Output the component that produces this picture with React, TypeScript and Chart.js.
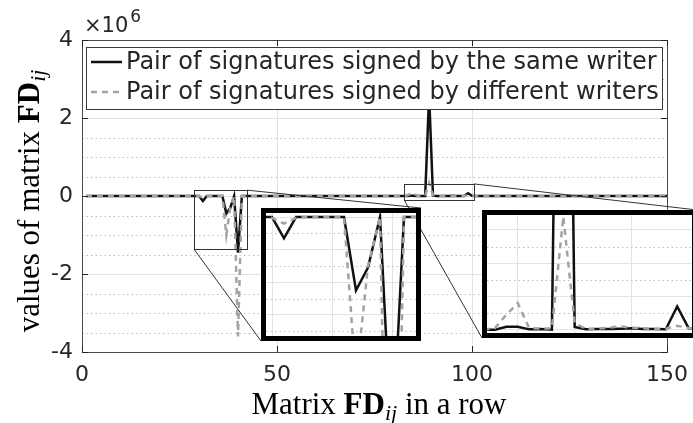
import React, { useEffect, useRef } from "react";
import { Chart, registerables } from "chart.js";
Chart.register(...registerables);

// ---------- data (values in units of 1e6) ----------
const INDEX = Array.from({ length: 150 }, (_, i) => i + 1);

const SAME_WRITER = [
  0, 0, 0, 0, 0, 0, 0, 0, 0, 0,
  0, 0, 0, 0, 0, 0, 0, 0, 0, 0,
  0, 0, 0, 0, 0, 0, 0, 0, 0, 0,
  -0.13, 0, 0, 0, 0, 0, -0.45, -0.31, 0, -1.45,
  0, 0, 0, 0, 0, 0, 0, 0, 0, 0,
  0, 0, 0, 0, 0, 0, 0, 0, 0, 0,
  0, 0, 0, 0, 0, 0, 0, 0, 0, 0,
  0, 0, 0, 0, 0, 0, 0, 0, 0, 0,
  0, 0, 0, 0.009, 0.009, 0.001, 0.002, 0, 2.6, 0.008,
  0.001, 0.002, 0.002, 0.003, 0.004, 0.002, 0.002, 0.001, 0.07, 0.005,
  0, 0, 0, 0, 0, 0, 0, 0, 0, 0,
  0, 0, 0, 0, 0, 0, 0, 0, 0, 0,
  0, 0, 0, 0, 0, 0, 0, 0, 0, 0,
  0, 0, 0, 0, 0, 0, 0, 0, 0, 0,
  0, 0, 0, 0, 0, 0, 0, 0, 0, 0,
];

const DIFF_WRITERS = [
  0, 0, 0, 0, 0, 0, 0, 0, 0, 0,
  0, 0, 0, 0, 0, 0, 0, 0, 0, 0,
  0, 0, 0, 0, 0, 0, 0, 0, 0, -0.005,
  -0.04, -0.005, 0, 0, 0, 0, -1.0, -0.3, 0, -3.6,
  0, 0, 0, 0, 0, 0, 0, 0, 0, 0,
  0, 0, 0, 0, 0, 0, 0, 0, 0, 0,
  0, 0, 0, 0, 0, 0, 0, 0, 0, 0,
  0, 0, 0, 0, 0, 0, 0, 0, 0, 0,
  0, 0, 0.005, 0.045, 0.08, 0.005, 0.003, 0.004, 0.34, 0.02,
  0.002, 0.003, 0.006, 0.01, 0.006, 0.004, 0.002, 0.003, 0.012, 0.005,
  0, 0, 0, 0, 0, 0, 0, 0, 0, 0,
  0, 0, 0, 0, 0, 0, 0, 0, 0, 0,
  0, 0, 0, 0, 0, 0, 0, 0, 0, 0,
  0, 0, 0, 0, 0, 0, 0, 0, 0, 0,
  0, 0, 0, 0, 0, 0, 0, 0, 0, 0,
];

const LEGEND_LABELS = [
  "Pair of signatures signed by the same writer",
  "Pair of signatures signed by different writers",
];

const X_TICKS = [0, 50, 100, 150];
const Y_TICKS = [-4, -2, 0, 2, 4];
const Y_MINOR = [-3.5, -3, -2.5, -1.5, -1, -0.5, 0.5, 1, 1.5, 2.5, 3, 3.5];

// inset 1 (zoom of the dips)
const INSET1_X = [29.5, 42];
const INSET1_Y = [-0.73, 0.025];
const INSET1_XTICKS = [30, 35, 40];
const INSET1_YTICKS = [-0.6, -0.4, -0.2, 0];
const INSET1_YMINOR = [-0.7, -0.5, -0.3, -0.1];
const INSET1_SRC = { x0: 28.7, x1: 42.3, y0: -1.36, y1: 0.15 };

// inset 2 (zoom of the spike)
const INSET2_X = [82.3, 100.3];
const INSET2_Y = [-0.01, 0.345];
const INSET2_XTICKS = [85, 90, 95];
const INSET2_YTICKS = [0, 0.1, 0.2, 0.3];
const INSET2_YMINOR = [0.05, 0.15, 0.25];
const INSET2_SRC = { x0: 82.6, x1: 100.5, y0: -0.1, y1: 0.31 };

// ---------- layout / style ----------
const W = 693;
const H = 423;
const INSET1_BOX = { left: 261, top: 208, width: 160, height: 133 };
const INSET2_BOX = { left: 482, top: 210, width: 215, height: 128 };
const TEXT = "#262626";
const GRID = "#e2e2e2";
const MINOR = "#bdbdbd";
const SANS = '"DejaVu Sans"';
const SERIF = '"Liberation Serif"';

function points(vals: number[]) {
  return INDEX.map((x, i) => ({ x, y: vals[i] }));
}

function datasets(width: number) {
  return [
    {
      label: LEGEND_LABELS[1],
      data: points(DIFF_WRITERS),
      borderColor: "#a3a3a3",
      borderWidth: width,
      borderDash: [6, 5],
      pointRadius: 0,
      tension: 0,
      order: 0,
    },
    {
      label: LEGEND_LABELS[0],
      data: points(SAME_WRITER),
      borderColor: "#111111",
      borderWidth: width,
      pointRadius: 0,
      tension: 0,
      order: 1,
    },
  ];
}

type Part = { t: string; font: string; dy?: number };
function drawRich(ctx: CanvasRenderingContext2D, parts: Part[], x: number, y: number) {
  let total = 0;
  for (const p of parts) {
    ctx.font = p.font;
    total += ctx.measureText(p.t).width;
  }
  let cx = x - total / 2;
  for (const p of parts) {
    ctx.font = p.font;
    ctx.fillText(p.t, cx, y + (p.dy || 0));
    cx += ctx.measureText(p.t).width;
  }
}

function seg(ctx: CanvasRenderingContext2D, x0: number, y0: number, x1: number, y1: number) {
  ctx.beginPath();
  ctx.moveTo(x0, y0);
  ctx.lineTo(x1, y1);
  ctx.stroke();
}

const mainDecor = {
  id: "mainDecor",
  beforeDatasetsDraw(chart: any) {
    const { ctx, chartArea: a, scales } = chart;
    ctx.save();
    ctx.strokeStyle = MINOR;
    ctx.lineWidth = 1;
    ctx.setLineDash([1.5, 3]);
    for (const v of Y_MINOR) {
      const py = Math.round(scales.y.getPixelForValue(v)) + 0.5;
      seg(ctx, a.left, py, a.right, py);
    }
    ctx.restore();
  },
  afterDatasetsDraw(chart: any) {
    const { ctx, chartArea: a, scales } = chart;
    const sx = scales.x, sy = scales.y;
    ctx.save();
    // box
    ctx.strokeStyle = "#4a4a4a";
    ctx.lineWidth = 1;
    ctx.strokeRect(Math.round(a.left) + 0.5, Math.round(a.top) + 0.5, Math.round(a.right - a.left), Math.round(a.bottom - a.top));
    // inward ticks
    ctx.strokeStyle = TEXT;
    for (const v of X_TICKS) {
      const px = Math.round(sx.getPixelForValue(v)) + 0.5;
      seg(ctx, px, a.bottom, px, a.bottom - 6);
      seg(ctx, px, a.top, px, a.top + 6);
    }
    for (const v of Y_TICKS) {
      const py = Math.round(sy.getPixelForValue(v)) + 0.5;
      seg(ctx, a.left, py, a.left + 6, py);
      seg(ctx, a.right, py, a.right - 6, py);
    }
    // source rectangles + connectors
    ctx.strokeStyle = "#333";
    ctx.lineWidth = 1;
    const insets = [
      { src: INSET1_SRC, box: INSET1_BOX },
      { src: INSET2_SRC, box: INSET2_BOX },
    ];
    for (const { src, box } of insets) {
      const x0 = sx.getPixelForValue(src.x0), x1 = sx.getPixelForValue(src.x1);
      const yTop = sy.getPixelForValue(src.y1), yBot = sy.getPixelForValue(src.y0);
      ctx.strokeRect(Math.round(x0) + 0.5, Math.round(yTop) + 0.5, Math.round(x1 - x0), Math.round(yBot - yTop));
      seg(ctx, x0, yBot, box.left, box.top + box.height);
      seg(ctx, x1, yTop, box.left + box.width, box.top);
    }
    // legend
    const lg = { x: 86, y: 47, w: 576, h: 62 };
    ctx.fillStyle = "#fff";
    ctx.fillRect(lg.x, lg.y, lg.w, lg.h);
    ctx.strokeStyle = "#3a3a3a";
    ctx.strokeRect(lg.x + 0.5, lg.y + 0.5, lg.w, lg.h);
    const rows = [
      { y: 62, ds: chart.data.datasets[1] },
      { y: 92, ds: chart.data.datasets[0] },
    ];
    ctx.font = `24px ${SANS}`;
    ctx.textBaseline = "middle";
    ctx.textAlign = "left";
    for (const r of rows) {
      ctx.save();
      ctx.strokeStyle = r.ds.borderColor;
      ctx.lineWidth = 2.5;
      ctx.setLineDash(r.ds.borderDash || []);
      seg(ctx, 91, r.y, 122, r.y);
      ctx.restore();
      ctx.fillStyle = TEXT;
      ctx.fillText(r.ds.label, 126, r.y + 1);
    }
    ctx.restore();
  },
  afterDraw(chart: any) {
    const { ctx } = chart;
    ctx.save();
    ctx.fillStyle = "#000";
    ctx.textBaseline = "alphabetic";
    ctx.textAlign = "left";
    // x title
    drawRich(ctx, [
      { t: "Matrix ", font: `31px ${SERIF}` },
      { t: "FD", font: `bold 31px ${SERIF}` },
      { t: "ij", font: `italic 22px ${SERIF}`, dy: 6 },
      { t: " in a row", font: `31px ${SERIF}` },
    ], 379, 414);
    // y title
    ctx.save();
    ctx.translate(39, 201);
    ctx.rotate(-Math.PI / 2);
    drawRich(ctx, [
      { t: "values of matrix ", font: `31px ${SERIF}` },
      { t: "FD", font: `bold 31px ${SERIF}` },
      { t: "ij", font: `italic 22px ${SERIF}`, dy: 6 },
    ], 0, 0);
    ctx.restore();
    // exponent
    ctx.fillStyle = TEXT;
    ctx.font = `21px ${SANS}`;
    ctx.fillText("\u00d710", 84, 32);
    const w = ctx.measureText("\u00d710").width;
    ctx.font = `17px ${SANS}`;
    ctx.fillText("6", 84 + w + 2, 22);
    ctx.restore();
  },
};

function mainConfig(): any {
  const tickFont = { family: "DejaVu Sans", size: 22 };
  return {
    type: "line",
    data: { datasets: datasets(2.5) },
    options: {
      responsive: false,
      animation: false,
      devicePixelRatio: 1,
      layout: { padding: { left: 0, right: 26, top: 40, bottom: 0 } },
      plugins: { legend: { display: false }, tooltip: { enabled: false } },
      scales: {
        x: {
          type: "linear",
          min: 0,
          max: 150,
          afterBuildTicks: (s: any) => { s.ticks = X_TICKS.map((v) => ({ value: v })); },
          ticks: { font: tickFont, color: TEXT, padding: 10, maxRotation: 0 },
          grid: { color: GRID, drawTicks: false, lineWidth: 1 },
          border: { display: false },
          afterFit: (s: any) => { s.height = H - 352; s.paddingLeft = 0; s.paddingRight = 0; },
        },
        y: {
          type: "linear",
          min: -4,
          max: 4,
          afterBuildTicks: (s: any) => { s.ticks = Y_TICKS.map((v) => ({ value: v })); },
          ticks: { font: tickFont, color: TEXT, padding: 9 },
          grid: { color: GRID, drawTicks: false, lineWidth: 1 },
          border: { display: false },
          afterFit: (s: any) => { s.width = 82; s.paddingTop = 0; s.paddingBottom = 0; },
        },
      },
    },
    plugins: [mainDecor],
  };
}

function insetConfig(xr: number[], yr: number[], xt: number[], yt: number[], ym: number[]): any {
  const decor = {
    id: "insetDecor",
    beforeDatasetsDraw(chart: any) {
      const { ctx, chartArea: a, scales } = chart;
      ctx.save();
      ctx.strokeStyle = MINOR;
      ctx.lineWidth = 1;
      ctx.setLineDash([1.5, 3]);
      for (const v of ym) {
        const py = Math.round(scales.y.getPixelForValue(v)) + 0.5;
        seg(ctx, a.left, py, a.right, py);
      }
      ctx.restore();
    },
    afterDatasetsDraw(chart: any) {
      const { ctx, chartArea: a } = chart;
      ctx.save();
      ctx.strokeStyle = "#000";
      ctx.lineWidth = 5;
      ctx.strokeRect(a.left - 2.5, a.top - 2.5, a.right - a.left + 5, a.bottom - a.top + 5);
      ctx.restore();
    },
  };
  return {
    type: "line",
    data: { datasets: datasets(2.5) },
    options: {
      responsive: false,
      animation: false,
      devicePixelRatio: 1,
      layout: { padding: 5 },
      plugins: { legend: { display: false }, tooltip: { enabled: false } },
      scales: {
        x: {
          type: "linear",
          min: xr[0],
          max: xr[1],
          afterBuildTicks: (s: any) => { s.ticks = xt.map((v) => ({ value: v })); },
          ticks: { display: false },
          grid: { color: GRID, drawTicks: false },
          border: { display: false },
          afterFit: (s: any) => { s.height = 0; },
        },
        y: {
          type: "linear",
          min: yr[0],
          max: yr[1],
          afterBuildTicks: (s: any) => { s.ticks = yt.map((v) => ({ value: v })); },
          ticks: { display: false },
          grid: { color: GRID, drawTicks: false },
          border: { display: false },
          afterFit: (s: any) => { s.width = 0; },
        },
      },
    },
    plugins: [decor],
  };
}

export default function App() {
  const mainRef = useRef<HTMLCanvasElement>(null);
  const in1Ref = useRef<HTMLCanvasElement>(null);
  const in2Ref = useRef<HTMLCanvasElement>(null);

  useEffect(() => {
    document.body.style.margin = "0";
    const charts = [
      new Chart(mainRef.current as HTMLCanvasElement, mainConfig()),
      new Chart(in1Ref.current as HTMLCanvasElement, insetConfig(INSET1_X, INSET1_Y, INSET1_XTICKS, INSET1_YTICKS, INSET1_YMINOR)),
      new Chart(in2Ref.current as HTMLCanvasElement, insetConfig(INSET2_X, INSET2_Y, INSET2_XTICKS, INSET2_YTICKS, INSET2_YMINOR)),
    ];
    return () => charts.forEach((c) => c.destroy());
  }, []);

  const boxStyle = (b: typeof INSET1_BOX): React.CSSProperties => ({
    position: "absolute",
    left: b.left,
    top: b.top,
    width: b.width,
    height: b.height,
    background: "#fff",
  });

  return (
    <div style={{ position: "relative", width: W, height: H, overflow: "hidden", background: "#fff" }}>
      <canvas ref={mainRef} width={W} height={H} style={{ position: "absolute", left: 0, top: 0 }} />
      <canvas ref={in1Ref} width={INSET1_BOX.width} height={INSET1_BOX.height} style={boxStyle(INSET1_BOX)} />
      <canvas ref={in2Ref} width={INSET2_BOX.width} height={INSET2_BOX.height} style={boxStyle(INSET2_BOX)} />
    </div>
  );
}
